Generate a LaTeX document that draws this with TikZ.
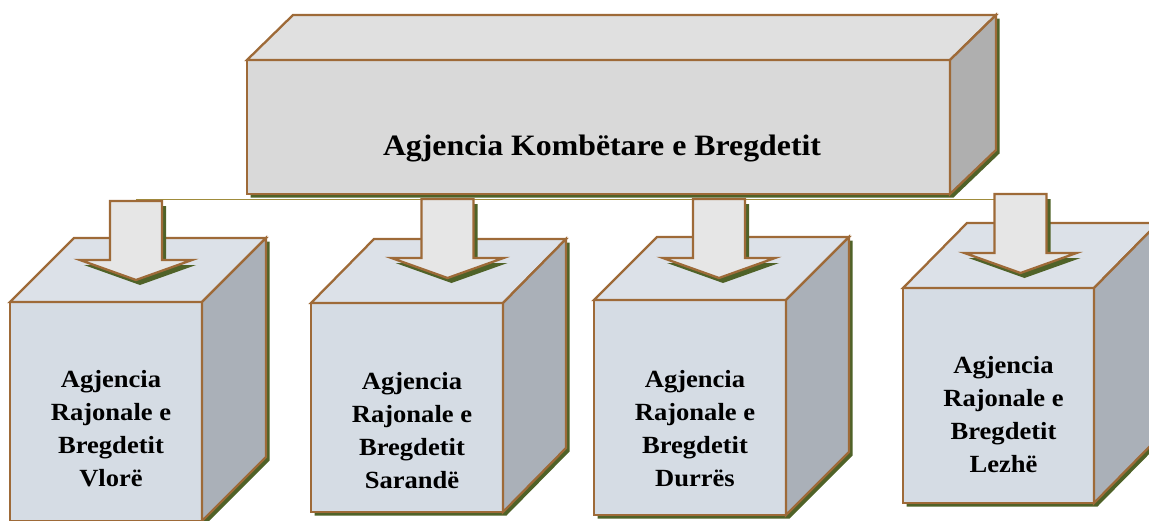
\documentclass[tikz,border=0pt]{standalone}
\usepackage{fontspec}
\setmainfont{Liberation Serif}[FakeStretch=1.075]
\definecolor{edgebrown}{HTML}{9E6A38}
\definecolor{shadowc}{HTML}{4F6228}
\definecolor{linkc}{HTML}{A08C3C}
\definecolor{topfront}{HTML}{D9D9D9}
\definecolor{toptop}{HTML}{E0E0E0}
\definecolor{topright}{HTML}{AFAFAF}
\definecolor{cfront}{HTML}{D5DCE4}
\definecolor{ctop}{HTML}{DCE1E8}
\definecolor{cright}{HTML}{AAB0B8}
\definecolor{arrowfill}{HTML}{E6E6E6}
\newcommand{\rscube}[9]{%
  % #1 name, #2 L, #3 T, #4 R, #5 B, #6 dx, #7 dy, #8 text, #9 text centre y
  \fill[shadowc] ({#2+3.5},{#5+3.5}) -- ({#2+3.5},{#3+3.5}) -- ({#2+#6+3.5},{#3-#7+3.5}) -- ({#4+#6+3.5},{#3-#7+3.5}) -- ({#4+#6+3.5},{#5-#7+3.5}) -- ({#4+3.5},{#5+3.5}) -- cycle;
  \filldraw[edge, fill=cfront] (#2,#3) rectangle (#4,#5);
  \filldraw[edge, fill=ctop] (#2,#3) -- ({#2+#6},{#3-#7}) -- ({#4+#6},{#3-#7}) -- (#4,#3) -- cycle;
  \filldraw[edge, fill=cright] (#4,#3) -- ({#4+#6},{#3-#7}) -- ({#4+#6},{#5-#7}) -- (#4,#5) -- cycle;
  \node[boxtext] (#1) at ({(#2+#4)/2+5},#9) {#8};
}
\newcommand{\rsarrow}[3]{%
  % #1 name, #2 centre x, #3 top y
  \fill[shadowc, shift={(4,5)}] ({#2-26},#3) -- ({#2+26},#3) -- ({#2+26},{#3+59}) -- ({#2+56},{#3+59}) -- (#2,{#3+79}) -- ({#2-56},{#3+59}) -- ({#2-26},{#3+59}) -- cycle;
  \filldraw[edge, fill=arrowfill] ({#2-26},#3) -- ({#2+26},#3) -- ({#2+26},{#3+59}) -- ({#2+56},{#3+59}) -- (#2,{#3+79}) -- ({#2-56},{#3+59}) -- ({#2-26},{#3+59}) -- cycle;
  \coordinate (#1) at (#2,#3);
}
\begin{document}
\begin{tikzpicture}[x=1pt,y=-1pt,
  edge/.style={draw=edgebrown, line width=2.3pt, line join=miter},
  boxtext/.style={font=\bfseries\fontsize{24.7}{33}\selectfont, align=center, inner sep=0pt, text=black},
  toptext/.style={font=\bfseries\fontsize{29.6}{36}\selectfont, inner sep=0pt, text=black, anchor=base},
  link/.style={draw=linkc, line width=1.5pt}]
\useasboundingbox (0,0) rectangle (1149,520);
% top box
\fill[shadowc] (250.5,197.5) -- (250.5,63.5) -- (296.5,18.5) -- (999.5,18.5) -- (999.5,153.5) -- (953.5,197.5) -- cycle;
\filldraw[edge, fill=topfront] (247,60) rectangle (950,194);
\filldraw[edge, fill=toptop] (247,60) -- (293,15) -- (996,15) -- (950,60) -- cycle;
\filldraw[edge, fill=topright] (950,60) -- (996,15) -- (996,150) -- (950,194) -- cycle;
\node[toptext] (top) at (602,155) {Agjencia Kombëtare e Bregdetit};
% link line
\coordinate (lkA) at (136,199.5);
\coordinate (lkB) at (1020,199.5);
\draw[link] (lkA) -- (lkB);
% cubes
\rscube{vlore}{10}{302}{202}{521}{64}{64}{Agjencia\\Rajonale e\\Bregdetit\\Vlorë}{429}
\rscube{sarande}{311}{303}{503}{512}{63}{64}{Agjencia\\Rajonale e\\Bregdetit\\Sarandë}{430.5}
\rscube{durres}{594}{300}{786}{515}{63}{63}{Agjencia\\Rajonale e\\Bregdetit\\Durrës}{428.5}
\rscube{lezhe}{903}{288}{1094}{503}{64}{65}{Agjencia\\Rajonale e\\Bregdetit\\Lezhë}{414.5}
% arrows
\rsarrow{arV}{136}{201}
\rsarrow{arS}{447.5}{199}
\rsarrow{arD}{719}{199}
\rsarrow{arL}{1020.5}{194}
\end{tikzpicture}
\end{document}
